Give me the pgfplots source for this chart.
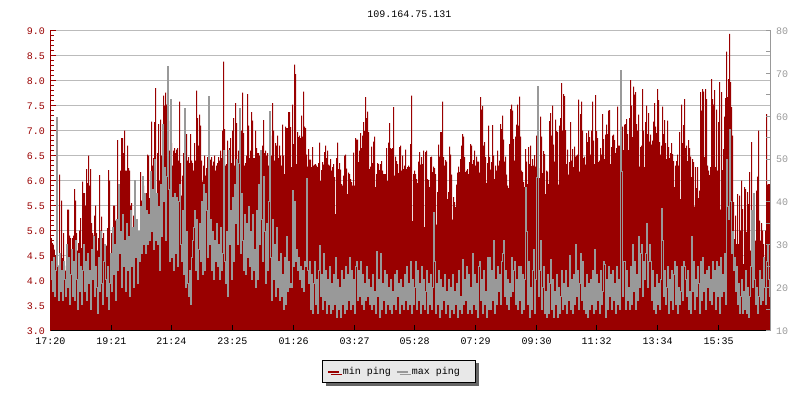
\documentclass[border=0pt]{standalone}
\usepackage{fontspec}
\setmainfont{Liberation Mono}
\usepackage{pgfplots}
\usepackage{pgfplotstable}
\pgfplotsset{compat=1.18}
\usetikzlibrary{shadows}
\definecolor{pingred}{HTML}{990000}
\definecolor{pinggrey}{HTML}{999999}
\definecolor{gridgrey}{HTML}{BBBBBB}
\newcommand{\sz}{\fontsize{10}{12}\selectfont}

% one value per pixel column, left axis
\pgfplotstableread[col sep=space,row sep=crcr,header=false]{
4.98\\4.85\\4.75\\4.72\\4.62\\4.50\\4.40\\4.60\\4.30\\6.12\\4.55\\5.60\\4.45\\4.95\\4.30\\4.20\\4.00\\5.42\\5.42\\4.90\\
4.85\\4.30\\4.85\\4.90\\5.83\\5.60\\4.95\\4.60\\4.75\\5.00\\5.25\\4.65\\5.98\\5.75\\5.75\\5.50\\6.23\\5.95\\6.50\\5.90\\
6.23\\5.15\\4.95\\4.90\\5.30\\5.50\\4.95\\4.60\\4.85\\6.11\\5.00\\5.28\\4.85\\4.95\\4.60\\4.70\\4.70\\5.05\\6.21\\6.00\\
4.50\\4.95\\4.90\\5.50\\5.50\\5.20\\5.00\\6.81\\5.70\\5.80\\6.20\\6.85\\6.85\\6.55\\7.00\\6.20\\6.20\\6.70\\6.25\\6.20\\
5.50\\5.55\\4.80\\5.30\\4.30\\4.50\\4.80\\4.70\\4.90\\4.60\\6.17\\5.60\\5.30\\5.90\\5.20\\5.30\\5.75\\6.52\\6.50\\5.65\\
6.00\\7.18\\6.30\\6.45\\7.17\\7.85\\5.75\\6.55\\7.13\\6.00\\7.22\\6.50\\7.12\\7.70\\7.50\\7.76\\7.52\\7.35\\7.20\\6.60\\
6.80\\6.75\\6.30\\6.60\\6.65\\6.55\\6.62\\6.65\\6.40\\7.58\\6.35\\5.70\\6.10\\6.55\\6.20\\6.62\\6.93\\6.40\\6.47\\6.35\\
6.93\\6.40\\6.35\\6.20\\6.75\\6.40\\7.80\\7.25\\6.70\\7.32\\7.10\\6.40\\5.98\\6.30\\6.50\\6.10\\6.25\\6.47\\6.00\\6.30\\
6.42\\6.47\\6.30\\6.38\\6.50\\6.20\\6.30\\6.35\\6.47\\6.40\\6.60\\6.45\\7.00\\8.38\\7.03\\6.30\\6.33\\6.80\\6.30\\6.65\\
6.85\\6.35\\7.00\\7.25\\6.30\\7.55\\7.15\\6.40\\6.60\\6.90\\6.30\\7.00\\7.76\\6.95\\6.30\\6.35\\6.50\\7.73\\7.10\\6.45\\
6.60\\7.37\\7.20\\6.45\\6.45\\7.00\\6.65\\6.55\\6.55\\6.50\\6.30\\6.00\\6.70\\7.21\\6.55\\6.60\\6.50\\6.55\\6.30\\7.10\\
6.90\\6.50\\7.55\\7.00\\6.40\\6.75\\6.70\\6.90\\6.45\\6.70\\6.50\\6.30\\7.12\\6.50\\6.13\\7.08\\7.05\\7.05\\7.37\\7.37\\
7.07\\6.27\\7.52\\6.73\\8.32\\8.13\\6.33\\6.97\\6.87\\6.90\\6.85\\7.30\\6.88\\7.78\\7.08\\7.05\\6.52\\6.28\\6.63\\6.42\\
6.42\\6.27\\6.67\\6.30\\6.32\\6.33\\6.30\\6.27\\6.35\\6.76\\5.99\\6.21\\6.37\\6.32\\6.57\\6.70\\6.45\\6.60\\6.32\\6.30\\
6.43\\6.20\\6.27\\6.33\\6.07\\5.33\\6.45\\6.76\\6.23\\6.35\\6.22\\5.93\\5.90\\6.10\\6.50\\6.52\\6.24\\5.73\\6.16\\6.13\\
6.03\\5.97\\5.90\\6.56\\5.90\\6.85\\6.82\\6.82\\6.37\\6.60\\6.95\\6.65\\6.90\\7.17\\6.99\\7.67\\7.25\\7.38\\6.97\\6.23\\
6.28\\6.68\\6.35\\6.78\\6.88\\5.87\\6.13\\6.35\\6.33\\6.21\\6.33\\6.39\\6.20\\6.13\\6.13\\6.13\\6.65\\5.99\\6.76\\7.15\\
6.65\\6.63\\6.65\\7.47\\6.10\\6.48\\6.39\\6.33\\6.15\\6.67\\6.70\\6.20\\6.50\\6.23\\6.30\\6.62\\6.23\\6.27\\6.30\\6.27\\
6.73\\7.70\\5.19\\6.13\\6.20\\6.13\\6.03\\5.95\\6.38\\6.57\\6.32\\6.47\\6.33\\6.60\\5.07\\6.57\\6.60\\6.03\\6.01\\5.87\\
6.47\\6.48\\6.17\\6.28\\6.25\\6.13\\5.12\\5.77\\6.72\\6.48\\6.97\\6.97\\7.58\\6.47\\6.30\\6.41\\6.38\\5.63\\5.77\\6.68\\
6.52\\6.12\\5.22\\5.67\\5.57\\5.47\\5.92\\6.16\\6.28\\6.17\\6.43\\6.70\\6.93\\6.88\\6.47\\6.17\\6.20\\6.23\\6.13\\6.37\\
6.73\\6.70\\6.33\\6.41\\6.60\\6.30\\6.48\\6.38\\6.38\\6.16\\7.67\\7.42\\7.49\\6.70\\6.77\\6.47\\5.95\\6.35\\7.10\\6.47\\
6.22\\6.37\\7.11\\6.50\\6.03\\6.30\\6.20\\6.60\\6.30\\6.40\\7.13\\7.03\\7.30\\6.82\\6.38\\6.48\\6.12\\5.90\\5.85\\6.73\\
7.43\\7.52\\7.40\\6.83\\6.40\\6.88\\7.12\\7.52\\7.10\\7.68\\6.88\\6.20\\6.17\\5.97\\5.87\\6.63\\6.38\\5.93\\6.67\\6.33\\
6.70\\6.29\\6.43\\6.30\\6.51\\6.28\\6.90\\6.27\\6.25\\6.05\\7.28\\6.88\\6.15\\6.59\\6.53\\5.73\\6.20\\6.18\\5.93\\7.19\\
7.35\\6.90\\7.50\\6.72\\6.38\\7.22\\6.99\\6.97\\5.92\\7.10\\7.25\\7.95\\7.00\\7.73\\7.69\\7.01\\6.33\\6.62\\6.12\\6.37\\
7.17\\6.40\\6.63\\6.27\\6.68\\6.48\\6.50\\6.52\\7.62\\6.18\\7.33\\7.58\\7.00\\6.45\\6.48\\6.32\\6.95\\6.77\\7.00\\6.87\\
6.52\\7.00\\7.58\\6.80\\6.33\\7.71\\6.99\\6.85\\6.37\\6.40\\6.65\\6.52\\7.33\\6.83\\6.43\\6.92\\7.12\\6.93\\7.40\\7.41\\
6.33\\6.67\\6.90\\6.92\\6.81\\6.55\\6.65\\7.48\\6.70\\6.70\\6.20\\6.47\\7.08\\6.61\\7.12\\7.13\\7.23\\6.93\\6.61\\7.25\\
8.01\\7.50\\6.87\\7.88\\7.72\\7.77\\7.13\\7.00\\7.32\\6.28\\6.67\\6.70\\7.83\\7.00\\6.27\\7.17\\7.50\\6.93\\7.35\\6.78\\
6.92\\6.72\\6.80\\7.18\\7.55\\7.08\\6.95\\7.83\\7.61\\6.77\\6.52\\6.70\\7.48\\6.93\\7.21\\6.75\\6.43\\7.20\\6.67\\6.45\\
6.55\\6.75\\6.53\\6.39\\5.87\\6.30\\6.39\\6.52\\6.30\\6.97\\5.63\\7.52\\6.75\\7.11\\7.63\\6.65\\6.70\\6.39\\6.81\\6.65\\
6.48\\6.07\\6.43\\6.37\\5.48\\6.27\\5.85\\6.27\\5.65\\5.80\\7.77\\7.40\\7.83\\7.78\\6.47\\7.83\\7.63\\6.30\\6.20\\6.11\\
6.27\\8.03\\7.63\\7.52\\7.81\\6.27\\7.42\\6.20\\7.17\\7.97\\5.42\\7.77\\6.21\\6.63\\7.28\\7.65\\8.58\\7.67\\8.03\\8.93\\
7.97\\7.47\\6.90\\5.57\\4.83\\5.30\\4.73\\5.73\\4.73\\5.70\\5.00\\6.00\\5.43\\4.33\\5.87\\5.83\\4.97\\5.77\\5.53\\6.17\\
4.60\\6.77\\4.47\\5.00\\4.47\\4.80\\5.80\\6.08\\7.00\\5.20\\4.80\\5.15\\5.00\\4.73\\4.33\\5.00\\7.33\\5.92\\5.93\\5.93\\5.93\\5.93\\
}\minping
% right axis
\pgfplotstableread[col sep=space,row sep=crcr,header=false]{
22\\26\\19\\27\\18\\24\\59.8\\25\\17\\28\\19\\24\\17\\26\\22\\18\\30\\20\\27\\16\\
23\\29\\18\\26\\17\\31\\22\\15\\28\\19\\25\\16\\24\\30\\19\\26\\17\\28\\21\\24\\
15\\29\\22\\32\\18\\25\\20\\14\\27\\19\\33\\21\\16\\26\\30\\22\\18\\25\\15\\21\\
28\\19\\34\\23\\30\\17\\36\\24\\44\\28\\33\\20\\37\\25\\31\\19\\35\\24\\32\\18\\
38\\25\\34\\20\\45\\27\\36\\21\\33\\26\\39\\28\\46\\30\\42\\28\\38\\30\\37\\31\\
47\\33\\43\\29\\50\\31\\42\\30\\39\\24\\44\\32\\58\\40\\48\\31\\46\\71.5\\43\\26\\
64\\27\\41\\24\\42\\28\\41\\25\\40\\44\\30\\26\\38\\23\\61.7\\20\\33\\21\\18\\24\\
16\\27\\31\\34\\38\\24\\36\\22\\29\\35\\26\\40\\23\\44\\24\\42\\38\\27\\64.6\\30\\
36\\24\\33\\22\\31\\26\\35\\25\\30\\22\\34\\24\\28\\52\\26\\21\\33\\18\\52\\30\\
38\\22\\41\\26\\44\\35\\50\\30\\49\\61.7\\28\\42\\31\\24\\37\\23\\35\\27\\39\\25\\
33\\22\\37\\24\\29\\20\\38\\22\\44\\30\\52\\36\\26\\46\\33\\21\\35\\24\\40\\61\\
27\\17\\36\\22\\30\\18\\34\\20\\26\\17\\28\\18\\23\\15\\27\\16\\32\\19\\26\\20\\
21\\20\\42.6\\25\\40\\26\\29\\24\\27\\22\\25\\20\\24\\19\\26\\25\\45.4\\24\\21\\26\\
15\\23\\14\\21\\26\\16\\22\\14\\24\\29.8\\18\\23\\15\\28\\17\\24\\14\\22\\16\\25\\
14\\21\\15\\23\\16\\27\\13\\22\\15\\20\\13\\24\\16\\22\\14\\25\\15\\23\\17\\27\\
15\\24\\16\\22\\14\\25\\26\\17\\24\\18\\26\\16\\23\\15\\21\\17\\25\\18\\22\\16\\
20\\15\\23\\16\\19\\14\\28.5\\18\\22\\13\\28\\15\\21\\17\\24\\14\\23\\16\\20\\15\\
22\\14\\19\\16\\23\\15\\24\\18\\21\\14\\22\\16\\20\\15\\23\\17\\25\\15\\21\\16\\
26\\14\\22\\16\\20\\26\\15\\24\\17\\21\\14\\25\\16\\22\\15\\19\\24\\14\\21\\16\\
23\\15\\20\\37.6\\26\\14\\21\\16\\24\\13\\22\\15\\20\\17\\23\\14\\19\\16\\22\\13\\
20\\15\\23\\14\\19\\16\\21\\13\\24\\15\\18\\14\\26.5\\16\\22\\17\\25\\14\\23\\15\\
20\\14\\28\\16\\23\\15\\21\\13\\25\\26\\17\\22\\14\\24\\16\\19\\13\\27\\15\\27\\
15\\24\\17\\31\\14\\22\\16\\25\\19\\23\\16\\26\\28\\31\\18\\24\\16\\22\\15\\21\\
18\\27\\19\\24\\26\\16\\22\\15\\25\\17\\25\\14\\23\\15\\22\\43.4\\33\\16\\26\\13\\
20\\15\\24\\29\\14\\22\\45.8\\67\\18\\24\\31\\15\\20\\25\\14\\19\\13\\23\\14\\21\\
26.5\\15\\22\\13\\19\\16\\23\\13\\20\\14\\18\\24\\15\\21\\16\\24\\14\\20\\17\\27.5\\
15\\22\\14\\23\\16\\30\\18\\24\\15\\21\\28\\17\\26\\15\\20\\14\\23\\13\\21\\15\\
22\\16\\24\\14\\29\\15\\23\\17\\21\\14\\24\\16\\19\\26\\25.5\\13\\22\\15\\25\\18\\
23\\15\\24\\17\\21\\14\\25\\16\\22\\15\\70.7\\47\\18\\26\\26\\15\\24\\17\\20\\15\\
25\\16\\30\\19\\26\\15\\23\\17\\32\\20\\28\\30\\18\\26\\22\\28\\35\\20\\26\\30\\
26\\17\\24\\15\\20\\14\\23\\16\\21\\15\\22\\38.4\\31\\18\\24\\16\\20\\25\\14\\22\\
17\\24\\15\\23\\26\\16\\25\\14\\20\\16\\19\\25\\17\\26\\25\\22\\18\\24\\15\\19\\
14\\32\\19\\26\\15\\22\\18\\25\\21\\14\\26\\17\\27\\19\\23\\15\\24\\20\\25\\17\\
22\\16\\26\\19\\24\\15\\26\\18\\25\\14\\27\\18\\23\\19\\28\\16\\50\\39\\36\\57\\
40\\28\\33\\24\\27\\19\\25\\16\\21\\14\\18\\22\\14\\19\\15\\24\\14\\20\\13\\18\\
25\\38\\20\\42\\22\\16\\20\\14\\18\\24\\16\\22\\17\\27\\20\\16\\26\\30\\22\\18\\18\\
}\maxping

\pgfplotsset{base/.style={
  scale only axis, width=720pt, height=300pt,
  at={(50.5pt,69.5pt)}, anchor=south west,
  xmin=0, xmax=720,
  tick label style={font=\sz},
  /pgf/number format/assume math mode=true,
}}

\begin{document}
\begin{tikzpicture}
\path[use as bounding box] (0,0) rectangle (800pt,400pt);
% grid only, so that it stays behind the red area
\begin{axis}[base, ymin=3, ymax=9, ytick={3,3.5,...,9}, xtick=\empty, yticklabels={},
  ymajorgrids, grid style={gridgrey,line width=1pt},
  major tick length=0pt, axis line style={draw=none}]
\end{axis}
\begin{axis}[base, ymin=3, ymax=9, axis on top,
  axis y line*=left, axis x line*=bottom,
  axis line style={-, line width=1pt},
  y axis line style={pingred},
  ytick={3,3.5,...,9}, minor y tick num=4,
  yticklabel style={pingred, xshift=-2pt, yshift=-0.5pt, /pgf/number format/fixed, /pgf/number format/precision=1, /pgf/number format/fixed zerofill},
  ytick style={pingred, line width=1pt}, minor tick style={pingred, line width=1pt},
  xtick={0,61,121,182,243,304,364,425,486,546,607,668},
  xticklabels={17:20,19:21,21:24,23:25,01:26,03:27,05:28,07:29,09:30,11:32,13:34,15:35},
  xtick style={black, line width=1pt},
  tick align=inside, major tick length=6pt, minor tick length=3.5pt,
  xticklabel style={yshift=-3.5pt},
  title={109.164.75.131}, title style={font=\sz, yshift=3.5pt, at={(0.4985,1)}},
]
\addplot[const plot, fill=pingred, draw=none] table[x expr=\coordindex-0.5, y index=0] {\minping} \closedcycle;
\end{axis}
\begin{axis}[base, ymin=10, ymax=80,
  axis y line*=right, axis x line=none,
  y axis line style={-, pinggrey, line width=1pt},
  ytick={10,20,...,80}, minor y tick num=1,
  yticklabel style={pinggrey, xshift=2pt, yshift=-0.5pt},
  ytick style={pinggrey, line width=1pt}, minor tick style={pinggrey, line width=1pt},
  tick align=inside, major tick length=5pt, minor tick length=5pt,
  legend columns=2,
  legend cell align=left,
  legend style={at={(0.4845,-0.137)}, anchor=center, font=\sz,
    draw=black, line width=1pt, fill=black!9, inner xsep=4pt, inner ysep=5pt,
    drop shadow={shadow xshift=3pt, shadow yshift=-3pt, fill=black!60, opacity=1},
    /tikz/column 1/.style={column sep=1pt},
    /tikz/column 2/.style={column sep=3pt},
    /tikz/column 3/.style={column sep=1pt}},
  legend image code/.code={\draw[#1, line width=2pt] (0pt,0pt) -- (11pt,0pt);},
]
\addlegendimage{pingred}
\addlegendentry{min ping}
\addlegendimage{pinggrey}
\addlegendentry{max ping\hspace*{10pt}}
\addplot[const plot, pinggrey, line width=1pt] table[x expr=\coordindex, y index=0] {\maxping};
\end{axis}
\end{tikzpicture}
\end{document}
